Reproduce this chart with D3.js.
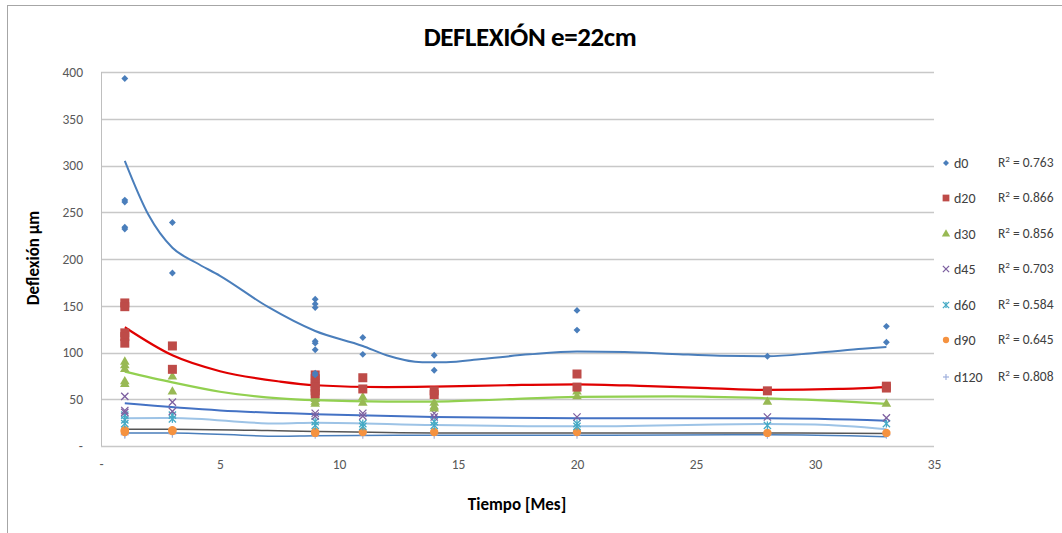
<!DOCTYPE html>
<html><head><meta charset="utf-8">
<script src="https://cdn.jsdelivr.net/npm/d3@7"></script>
<style>body{margin:0;background:#fff}svg{display:block}</style>
</head><body>
<svg id="c" width="1062" height="533"></svg>
<script>
// ---- data ----
const title = "DEFLEXIÓN e=22cm";
const xTicks = [0, 5, 10, 15, 20, 25, 30, 35];
const yTicks = [0, 50, 100, 150, 200, 250, 300, 350, 400];
const seriesNames = ["d0", "d20", "d30", "d45", "d60", "d90", "d120"];
const r2Values = ["0.763", "0.866", "0.856", "0.703", "0.584", "0.645", "0.808"];

const d0 = [[1,393],[1,263],[1,261],[1,234],[1,232],[3,239],[3,185],
  [9,157],[9,152],[9,148],[9,112],[9,110],[9,103],[9,78],[9,76],
  [11,116],[11,98],[14,97],[14,81],[20,145],[20,124],[28,96],[33,128],[33,111]];
const d20 = [[1,153],[1,149],[1,121],[1,117],[1,110],[3,107],[3,82],
  [9,76],[9,72],[9,67],[9,63],[9,59],[9,56],[11,73],[11,61],[14,59],[14,55],
  [20,77],[20,63],[28,59],[33,64],[33,62]];
const d30 = [[1,90],[1,86],[1,82],[1,69],[1,66],[3,74],[3,58],
  [9,53],[9,50],[9,47],[9,45],[11,52],[11,46],[14,46],[14,42],[14,40],
  [20,58],[20,53],[28,47],[33,45]];
const d45 = [[1,53],[1,38],[1,36],[3,47],[3,37],[9,35],[9,32],[11,35],[11,32],
  [14,35],[14,31],[20,31],[28,31],[33,30]];
const d60 = [[1,33],[1,28],[1,24],[3,33],[3,29],[9,26],[9,22],[11,24],[11,21],
  [14,26],[14,22],[20,24],[20,21],[28,22],[33,24]];
const d90 = [[1,17],[1,16],[1,15],[3,17],[3,16],[9,15],[9,14],[11,15],[14,15],
  [20,15],[28,14],[33,14]];
const d120 = [[1,13],[1,12],[3,13],[9,12],[11,12],[14,12],[20,12],[28,12],[33,12]];

// trendlines
const t0 = [[1,305],[2,247],[3,212],[4,196],[5,182],[7,149],[9,123],[11,107],[12,97],[13.5,89.5],
  [14.5,89.5],[16,93],[18,98],[20,101],[22,100.5],[24,98.5],[26,96.5],[28,96],[30,99.5],[32,104],[33,106]];
const t20 = [[1,127],[3,97],[5,80],[7.5,69],[9,65],[12,63],[14,63.5],[17,65],[20,66],
  [23,64],[25.5,62],[28,60],[31,61],[33,63]];
const t30 = [[1,79.5],[3,68],[5,58],[7.5,51],[9,49],[12,47.5],[14,47.5],[17,50],[20,52.5],
  [24,53],[28,51],[31,48],[33,45]];
const t45 = [[1,45.6],[5,38],[9,34],[14,31],[20,29.6],[28,29.6],[33,27]];
const t60 = [[1,29.6],[3,30],[7.5,24],[9,25],[14,22.5],[20,21],[28,23.5],[30,23],[33,18]];
const t90 = [[1,18],[3,18],[7,16.5],[9,15.5],[14,14],[20,14],[28,14],[33,13.5]];
const t120 = [[1,14],[3,14],[7.5,10.5],[9,11],[14,11.5],[20,11.5],[28,12],[33,10]];

const seriesData = [d0, d20, d30, d45, d60, d90, d120];
const trendData = [t0, t20, t30, t45, t60, t90, t120];

// ---- styles ----
const markerColors = ["#4a7ebb", "#be4b48", "#98b954", "#7d60a0", "#46aac5", "#f59240", "#9fb0dc"];
const trendColors = ["#4a7ebb", "#e00000", "#92d050", "#4472c4", "#9dc3e6", "#555555", "#4a7ebb"];
const trendWidths = [2, 2.2, 2.2, 2, 2, 1.5, 1.5];
const font = "Calibri, Carlito, 'Open Sans', 'Liberation Sans', sans-serif";

const svg = d3.select("#c");
const x = d3.scaleLinear().domain([0, 35]).range([101, 934]);
const y = d3.scaleLinear().domain([0, 400]).range([446, 72]);

// outer border
svg.append("rect").attr("x", 7.5).attr("y", 5.5).attr("width", 1100).attr("height", 600)
  .attr("fill", "#fff").attr("stroke", "#a6a6a6").attr("stroke-width", 1);

// gridlines
svg.append("g").selectAll("line").data(yTicks).join("line")
  .attr("x1", x(0)).attr("x2", x(35)).attr("y1", d => Math.round(y(d)) + 0.5).attr("y2", d => Math.round(y(d)) + 0.5)
  .attr("stroke", "#c8c8c8").attr("stroke-width", 1.3);
svg.append("line").attr("x1", x(0) + 0.5).attr("x2", x(0) + 0.5).attr("y1", y(400)).attr("y2", y(0))
  .attr("stroke", "#bfbfbf");

// axes (labels only)
const fmt = d => d === 0 ? "-" : String(d);
const yAxis = svg.append("g").attr("transform", `translate(${x(0)},0)`)
  .call(d3.axisLeft(y).tickValues(yTicks).tickFormat(fmt).tickSize(0).tickPadding(18));
const xAxis = svg.append("g").attr("transform", `translate(0,${y(0)})`)
  .call(d3.axisBottom(x).tickValues(xTicks).tickFormat(fmt).tickSize(0).tickPadding(13));
[yAxis, xAxis].forEach(a => {
  a.select(".domain").remove();
  a.selectAll("text").attr("font-family", font).attr("font-size", 13.5).attr("fill", "#595959");
});

// trendlines
const line = d3.line().x(d => x(d[0])).y(d => y(d[1])).curve(d3.curveMonotoneX);
svg.append("g").selectAll("path").data(trendData).join("path")
  .attr("d", line).attr("fill", "none")
  .attr("stroke", (d, i) => trendColors[i]).attr("stroke-width", (d, i) => trendWidths[i])
  .attr("stroke-linejoin", "round");

// markers
function drawMarker(g, i, cx, cy, scale) {
  const c = markerColors[i];
  const s = scale || 1;
  if (i === 0) g.append("path").attr("d", d3.symbol(d3.symbolDiamond2, 30 * s)()).attr("transform", `translate(${cx},${cy})`).attr("fill", c);
  else if (i === 1) g.append("rect").attr("x", cx - 4.5 * s).attr("y", cy - 4.5 * s).attr("width", 9 * s).attr("height", 9 * s).attr("fill", c);
  else if (i === 2) g.append("path").attr("d", d3.symbol(d3.symbolTriangle, 40 * s)()).attr("transform", `translate(${cx},${cy})`).attr("fill", c);
  else if (i === 3) g.append("path").attr("d", d3.symbol(d3.symbolX, 36 * s)()).attr("transform", `translate(${cx},${cy})`).attr("fill", "none").attr("stroke", c).attr("stroke-width", 1.3);
  else if (i === 4) {
    g.append("path").attr("d", d3.symbol(d3.symbolX, 36 * s)()).attr("transform", `translate(${cx},${cy})`).attr("fill", "none").attr("stroke", c).attr("stroke-width", 1.3);
    g.append("line").attr("x1", cx).attr("x2", cx).attr("y1", cy - 4 * s).attr("y2", cy + 4 * s).attr("stroke", c).attr("stroke-width", 1.3);
  }
  else if (i === 5) g.append("circle").attr("cx", cx).attr("cy", cy).attr("r", 4.2 * s).attr("fill", c);
  else {
    g.append("line").attr("x1", cx - 4 * s).attr("x2", cx + 4 * s).attr("y1", cy).attr("y2", cy).attr("stroke", c).attr("stroke-width", 1.2);
    g.append("line").attr("x1", cx).attr("x2", cx).attr("y1", cy - 4 * s).attr("y2", cy + 4 * s).attr("stroke", c).attr("stroke-width", 1.2);
  }
}
// draw markers from last series to first so d0 sits on top
for (let i = seriesData.length - 1; i >= 0; i--) {
  const g = svg.append("g");
  seriesData[i].forEach(p => drawMarker(g, i, x(p[0]), y(p[1])));
}

// title
svg.append("text").attr("x", 530).attr("y", 46).attr("text-anchor", "middle")
  .attr("font-family", font).attr("font-weight", "bold").attr("font-size", 27).attr("fill", "#000")
  .attr("letter-spacing", -0.4)
  .text(title);
// axis titles
svg.append("text").attr("x", 517).attr("y", 510).attr("text-anchor", "middle")
  .attr("font-family", font).attr("font-weight", "bold").attr("font-size", 17).attr("fill", "#000")
  .text("Tiempo [Mes]");
svg.append("text").attr("transform", "translate(39,258) rotate(-90)").attr("text-anchor", "middle")
  .attr("font-family", font).attr("font-weight", "bold").attr("font-size", 17).attr("fill", "#000")
  .text("Deflexión µm");

// legend
const legY = [163, 198, 234, 269, 305, 340, 377];
const leg = svg.append("g");
seriesNames.forEach((n, i) => {
  drawMarker(leg, i, 946, legY[i], 0.75);
  leg.append("text").attr("x", 954).attr("y", legY[i] + 5).attr("font-family", font).attr("font-size", 14)
    .attr("fill", "#404040").text(n);
  const t = leg.append("text").attr("x", 998).attr("y", legY[i] + 4).attr("font-family", font).attr("font-size", 13.5)
    .attr("fill", "#404040");
  t.append("tspan").text("R");
  t.append("tspan").attr("dy", -5).attr("font-size", 9).text("2");
  t.append("tspan").attr("dy", 5).text(" = " + r2Values[i]);
});
</script>
</body></html>
